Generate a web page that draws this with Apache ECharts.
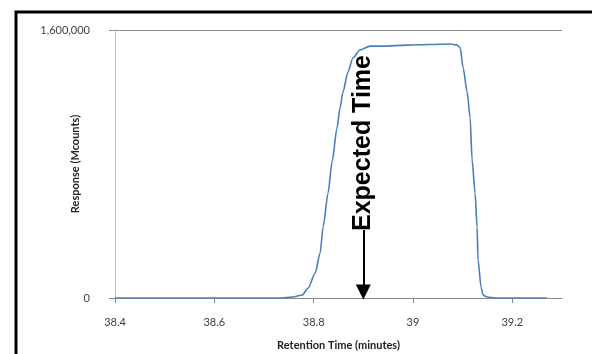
<!DOCTYPE html>
<html>
<head>
<meta charset="utf-8">
<script src="https://cdn.jsdelivr.net/npm/echarts@6/dist/echarts.min.js"></script>
<style>html,body{margin:0;padding:0;background:#fff}#c{width:592px;height:354px}</style>
</head>
<body>
<div id="c"></div>
<script>
// Retention time (minutes)
const times = [38.40, 38.50, 38.60, 38.70, 38.73, 38.758, 38.777, 38.789, 38.803, 38.813, 38.819, 38.829, 38.837, 38.847, 38.853, 38.859, 38.869, 38.879, 38.893, 38.914, 38.940, 38.988, 39.034, 39.075, 39.089, 39.095, 39.101, 39.109, 39.115, 39.119, 39.125, 39.129, 39.131, 39.137, 39.141, 39.149, 39.165, 39.20, 39.27];
// Response (Mcounts)
const responses = [0, 0, 0, 0, 0, 6000, 18000, 60000, 149000, 269000, 424000, 627000, 812000, 1015000, 1134000, 1230000, 1349000, 1433000, 1481000, 1504000, 1504000, 1510000, 1513000, 1516000, 1510000, 1493000, 1373000, 1230000, 1075000, 824000, 627000, 424000, 227000, 66000, 18000, 6000, 0, 0, 0];
const xTicks = [38.4, 38.6, 38.8, 39, 39.2];
const yTicks = [0, 1600000];
const expectedTime = 38.9;
const arrowFrom = 406000, arrowTo = 36000;
const annotation = 'Expected Time';

const chart = echarts.init(document.getElementById('c'));
const option = {
  animation: false,
  grid: {left: 115, right: 30, top: 30, bottom: 56, containLabel: false, outerBoundsMode: 'none'},
  xAxis: {
    type: 'value', min: 38.4, max: 39.3, interval: 0.2,
    name: 'Retention Time (minutes)', nameLocation: 'middle', nameGap: 42, nameMoveOverlap: false,
    nameTextStyle: {fontFamily: 'Lato', fontWeight: 'bold', fontSize: 11, color: '#222'},
    axisLine: {show: true, lineStyle: {color: '#8a8a8a'}},
    axisTick: {show: true, length: 5, lineStyle: {color: '#8a8a8a'}},
    axisLabel: {showMaxLabel: false, margin: 19, fontFamily: 'Lato', fontSize: 11, color: '#404040',
      formatter: v => xTicks.includes(+v.toFixed(1)) ? String(+v.toFixed(1)) : ''},
    splitLine: {show: false}
  },
  yAxis: {
    type: 'value', min: 0, max: 1600000, interval: 1600000,
    name: 'Response (Mcounts)', nameLocation: 'middle', nameGap: 34, nameRotate: 90, nameMoveOverlap: false,
    nameTextStyle: {fontFamily: 'Lato', fontWeight: 'bold', fontSize: 11, color: '#222'},
    axisLine: {show: true, lineStyle: {color: '#b4c0d0'}},
    axisTick: {show: true, length: 6, lineStyle: {color: '#8a8a8a'}},
    axisLabel: {margin: 25, fontFamily: 'Lato', fontSize: 11, color: '#404040',
      formatter: v => yTicks.includes(v) ? v.toLocaleString('en-US') : ''},
    splitLine: {show: true, lineStyle: {color: '#8a8a8a'}}
  },
  series: [{
    type: 'line', data: times.map((t, i) => [t, responses[i]]),
    smooth: 0.25, smoothMonotone: 'x', symbol: 'none', lineStyle: {color: '#4a7ebb', width: 1.6},
    markLine: {
      silent: true, symbol: ['none', 'triangle'], symbolSize: [15, 15], symbolRotate: 180,
      label: {show: false},
      lineStyle: {color: '#000', width: 2, type: 'solid'},
      data: [[{coord: [expectedTime, arrowFrom]}, {coord: [expectedTime, arrowTo]}]]
    }
  }]
};
chart.setOption(option);
const p = chart.convertToPixel({gridIndex: 0}, [expectedTime, arrowFrom]);
chart.setOption({
  graphic: [
    {type: 'rect', shape: {x: 16, y: 12, width: 620, height: 400},
     style: {fill: 'none', stroke: '#000', lineWidth: 3}, z: 100},
    {type: 'text', x: p[0], y: p[1] + 1, rotation: Math.PI / 2,
     style: {text: annotation, font: 'bold 25px "Liberation Sans"', fill: '#000',
             textAlign: 'left', textVerticalAlign: 'middle'}, z: 50}
  ]
});
</script>
</body>
</html>
